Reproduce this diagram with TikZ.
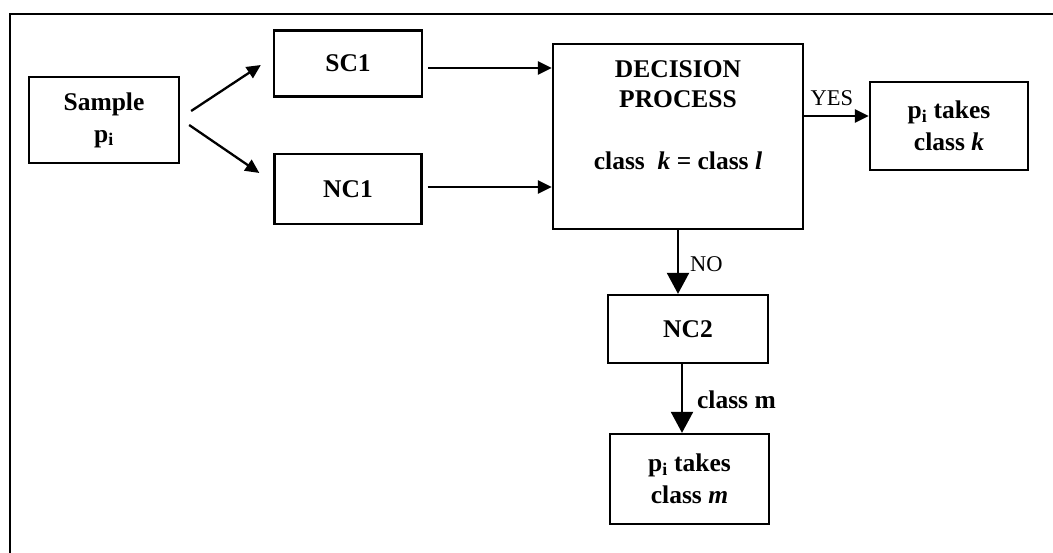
\documentclass[tikz,border=0pt]{standalone}
\usepackage{fontspec}
\setmainfont{Liberation Serif}
\usetikzlibrary{arrows.meta,calc}

\begin{document}
\begin{tikzpicture}[x=1pt,y=-1pt,
  box/.style={draw,line width=2.3pt,rectangle,inner sep=0pt,
    font=\fontsize{25.5}{32}\selectfont\bfseries,align=center},
  arr/.style={line width=2.3pt,-{Triangle[length=14pt,width=13pt]}},
  bigarr/.style={line width=2.3pt,-{Triangle[length=21pt,width=22pt]}},
  lbl/.style={font=\fontsize{22.5}{26}\selectfont,inner sep=0pt},
  blbl/.style={font=\fontsize{25.5}{30}\selectfont\bfseries,inner sep=0pt}]
  \useasboundingbox (0,0) rectangle (1053,553);

  % outer frame (top and left edges)
  \draw[line width=2.5pt] (10,553) -- (10,14) -- (1053,14);

  % blocks
  \node[box,minimum width=150pt,minimum height=86pt] (sample) at (104,120)
    {Sample\\p\textsubscript{i}};
  \node[box,minimum width=148pt,minimum height=66pt] (sc1) at (348,63.5) {SC1};
  \node[box,minimum width=147pt,minimum height=70pt] (nc1) at (348,189) {NC1};
  \node[box,minimum width=250pt,minimum height=185pt] (dp) at (678,136.5) {};
  \node[blbl,align=center,anchor=north] (dptitle) at (678,60)
    {DECISION\\PROCESS};
  \node[blbl,anchor=base] (dprule) at (678,170)
    {class\ \ \textit{k} = class \textit{l}};
  \node[box,minimum width=158pt,minimum height=88pt] (pk) at (949,126)
    {p\textsubscript{i} takes\\class \textit{k}};
  \node[box,minimum width=160pt,minimum height=68pt] (nc2) at (688,329) {NC2};
  \node[box,minimum width=159pt,minimum height=90pt] (pm) at (689.5,479)
    {p\textsubscript{i} takes\\class \textit{m}};

  % connectors
  \draw[arr] ($(sample.east)+(11,-9)$) -- ($(sc1.west)+(-12,1.5)$);
  \draw[arr] ($(sample.east)+(9,5)$) -- ($(nc1.west)+(-14,-16)$);
  \draw[arr] ($(sc1.east)+(5,4.5)$) -- ($(sc1.east -| dp.west)+(0,4.5)$);
  \draw[arr] ($(nc1.east)+(5,-2)$) -- ($(nc1.east -| dp.west)+(0,-2)$);
  \draw[arr] ($(dp.east |- pk.west)+(0,-10)$) -- ($(pk.west)+(0,-10)$)
    node[lbl,pos=0.43,above=9pt] (yes) {YES};
  \draw[bigarr] (dp.south) -- (dp.south |- nc2.north)
    node[lbl,pos=0.53,right=11pt] (no) {NO};
  \draw[bigarr] ($(nc2.south)+(-6,0)$) -- ($(nc2.south |- pm.north)+(-6,0)$)
    node[blbl,pos=0.52,right=14pt] (cm) {class m};
\end{tikzpicture}
\end{document}
